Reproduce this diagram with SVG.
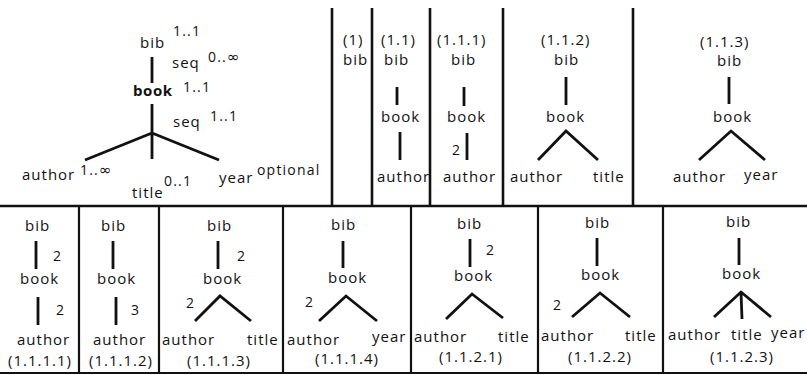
<svg xmlns="http://www.w3.org/2000/svg" width="807" height="375" viewBox="0 0 807 375">
<style>
text{font-family:"Open Sans","Liberation Sans",sans-serif;font-size:15px;letter-spacing:1px;fill:#111}
.a{font-size:14px;letter-spacing:1.2px}
.b{font-weight:bold;letter-spacing:0.6px}
.inf{font-family:"DejaVu Sans",sans-serif;font-size:15px;letter-spacing:0}
.e{stroke:#111;stroke-width:2.8;fill:none;stroke-linecap:butt}
.t{stroke:#111;stroke-width:2.2;fill:none}
.f{stroke:#111;stroke-width:2.6;fill:none}
</style>
<rect width="807" height="375" fill="#fff"/>
<g id="frame">
<path class="f" d="M0 206H807M332 8V207M372 8V207M430 8V207M503 8V207M633 8V207"/>
<path class="t" d="M0 373H807M79 206V373M159 206V373M283 206V373M411 206V373M538 206V373M663 206V373"/>
</g>
<g id="connectors">
<path class="e" d="M152 57V83M152 104V133M152 133L85 160M152 133V159M152 133L219 160"/>
<path class="e" d="M397 87V105M400 132V160M464 87V106M467 133V160"/>
<path class="e" d="M566 77V105M538 160L566 131L598 160M729 77V104M699 160L731 131L765 160"/>
<path class="e" d="M36 241V269M38 297V325M113 241V269M116 297V325M218 241V269M195 321L220 296L251 321"/>
<path class="e" d="M343 241V268M319 321L346 296L377 321M470 239V267M446 319L472 294L503 318"/>
<path class="e" d="M597 238V266M572 317L600 293L630 317M739 238V265M714 317L741 292L771 317M741 292L742 319"/>
</g>
<g id="schema">
<g id="s-bib"><text x="140" y="48">bib</text><text class="a" x="173" y="36">1..1</text></g>
<g id="s-seq1"><text x="172" y="68">seq</text><text class="a" x="208" y="62">0..<tspan class="inf">∞</tspan></text></g>
<g id="s-book"><text class="b" x="133" y="96">book</text><text class="a" x="183" y="92">1..1</text></g>
<g id="s-seq2"><text x="173" y="127">seq</text><text class="a" x="210" y="121">1..1</text></g>
<g id="s-author"><text x="22" y="180">author</text><text class="a" x="80" y="175">1..<tspan class="inf">∞</tspan></text></g>
<g id="s-title"><text x="132" y="198">title</text><text class="a" x="164" y="186">0..1</text></g>
<g id="s-year"><text x="219" y="183">year</text><text class="a" x="257" y="175">optional</text></g>
</g>
<g id="p1"><text x="343" y="45">(1)</text><text x="343" y="65">bib</text></g>
<g id="p11"><text x="381" y="45">(1.1)</text><text x="384" y="65">bib</text><text x="381" y="122">book</text><text x="377" y="182">author</text></g>
<g id="p111"><text x="437" y="45">(1.1.1)</text><text x="451" y="65">bib</text><text x="447" y="122">book</text><text class="a" x="452" y="155">2</text><text x="443" y="182">author</text></g>
<g id="p112"><text x="541" y="45">(1.1.2)</text><text x="554" y="65">bib</text><text x="546" y="122">book</text><text x="510" y="182">author</text><text x="593" y="182">title</text></g>
<g id="p113"><text x="700" y="47">(1.1.3)</text><text x="717" y="66">bib</text><text x="713" y="122">book</text><text x="673" y="182">author</text><text x="744" y="180">year</text></g>
<g id="p1111"><text x="25" y="231">bib</text><text class="a" x="53" y="261">2</text><text x="20" y="284">book</text><text class="a" x="56" y="315">2</text><text x="17" y="345">author</text><text x="8" y="366">(1.1.1.1)</text></g>
<g id="p1112"><text x="101" y="231">bib</text><text x="97" y="284">book</text><text class="a" x="131" y="315">3</text><text x="93" y="345">author</text><text x="89" y="366">(1.1.1.2)</text></g>
<g id="p1113"><text x="207" y="231">bib</text><text class="a" x="237" y="261">2</text><text x="203" y="284">book</text><text class="a" x="186" y="308">2</text><text x="162" y="345">author</text><text x="247" y="345">title</text><text x="187" y="366">(1.1.1.3)</text></g>
<g id="p1114"><text x="331" y="230">bib</text><text x="328" y="283">book</text><text class="a" x="305" y="307">2</text><text x="287" y="345">author</text><text x="372" y="342">year</text><text x="315" y="364">(1.1.1.4)</text></g>
<g id="p1121"><text x="457" y="229">bib</text><text class="a" x="486" y="255">2</text><text x="454" y="281">book</text><text x="414" y="342">author</text><text x="498" y="342">title</text><text x="439" y="362">(1.1.2.1)</text></g>
<g id="p1122"><text x="585" y="228">bib</text><text x="581" y="280">book</text><text class="a" x="553" y="310">2</text><text x="541" y="341">author</text><text x="625" y="341">title</text><text x="568" y="362">(1.1.2.2)</text></g>
<g id="p1123"><text x="726" y="227">bib</text><text x="722" y="279">book</text><text x="668" y="340">author</text><text x="731" y="340">title</text><text x="771" y="338">year</text><text x="710" y="362">(1.1.2.3)</text></g>
</svg>
